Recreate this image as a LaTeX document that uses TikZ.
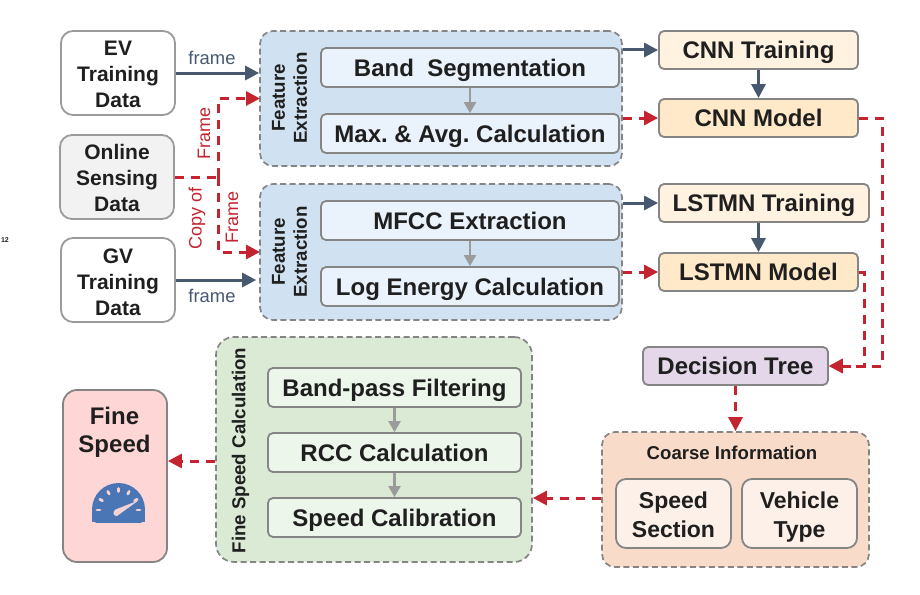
\documentclass[tikz,border=0pt]{standalone}
\usepackage{fontspec}
\setmainfont{Liberation Sans}
\usetikzlibrary{arrows.meta,calc}
\definecolor{bluearrow}{HTML}{47586F}
\definecolor{redarrow}{HTML}{C4242F}
\definecolor{edgegray}{HTML}{858585}
\definecolor{softgray}{HTML}{9B9B9B}
\definecolor{txt}{HTML}{1F1F1F}
\definecolor{fefill}{HTML}{D0E2F1}
\definecolor{innerblue}{HTML}{EAF2FB}
\definecolor{trainfill}{HTML}{FFF2E1}
\definecolor{modelfill}{HTML}{FFE9C8}
\definecolor{treefill}{HTML}{E3D7E9}
\definecolor{coarsefill}{HTML}{F8DCC9}
\definecolor{coarseinner}{HTML}{FDF0E9}
\definecolor{calcfill}{HTML}{DAEAD5}
\definecolor{calcinner}{HTML}{EDF6EA}
\definecolor{finefill}{HTML}{FFD6D6}
\definecolor{gaugeblue}{HTML}{4A76B5}
\definecolor{gaugetick}{HTML}{F6D3D3}
\newcommand{\toprule}[1]{\rule{0pt}{#1pt}}
\tikzset{
  every node/.style={text=txt,inner sep=0pt,align=center},
  boxbase/.style={rounded corners=5pt,line width=1.8pt,draw=edgegray},
  databox/.style={boxbase,rounded corners=12pt,draw=softgray,fill=white,minimum width=114pt,minimum height=84pt,font=\fontsize{21}{26}\selectfont\bfseries},
  group/.style={rounded corners=13pt,line width=1.7pt,draw=edgegray,dash pattern=on 6pt off 3.5pt},
  innerbox/.style={boxbase,minimum height=39pt,text height=23pt,text depth=6pt,font=\fontsize{24}{28}\selectfont\bfseries},
  stepnode/.style={boxbase,minimum height=38pt,text height=23pt,text depth=6pt,font=\fontsize{24}{28}\selectfont\bfseries},
  grouptitle/.style={rotate=90,font=\fontsize{18.7}{22}\selectfont\bfseries},
  bluelink/.style={draw=bluearrow,line width=3pt,-{Triangle[length=14pt,width=14pt]}},
  redlink/.style={draw=redarrow,line width=3pt,dash pattern=on 9pt off 7pt,-{Triangle[length=14pt,width=14pt,fill=redarrow]}},
  redplain/.style={draw=redarrow,line width=3pt,dash pattern=on 9pt off 7pt},
  graylink/.style={draw=softgray,line width=2.4pt,-{Triangle[length=11pt,width=12pt]}},
  framelabel/.style={font=\fontsize{18.4}{22}\selectfont,text=bluearrow},
  redlabel/.style={rotate=90,font=\fontsize{18}{22}\selectfont,text=redarrow},
}
\begin{document}
\begin{tikzpicture}[x=1pt,y=-1pt]
\useasboundingbox (0,0) rectangle (920,594);

% left data boxes
\node[databox] (ev) at (118,73) {\toprule{17}EV\\Training\\Data};
\node[databox,fill=black!5] (online) at (117,177) {\toprule{17}Online\\Sensing\\Data};
\node[databox] (gv) at (118,280) {\toprule{19}GV\\Training\\Data};
\node[font=\fontsize{7}{8}\selectfont\bfseries] (pagemark) at (5,240) {12};

% feature extraction groups
\node[group,fill=fefill,minimum width=362pt,minimum height=135pt] (fea) at (441,98.5) {};
\node[group,fill=fefill,minimum width=362pt,minimum height=136pt] (feb) at (441,252) {};
\node[grouptitle] (featitle) at (289.5,98) {Feature\\Extraction};
\node[grouptitle] (febtitle) at (289.5,252) {Feature\\Extraction};
\node[innerbox,fill=innerblue,minimum width=298pt] (band) at (470,67.5) {Band\ \ Segmentation};
\node[innerbox,fill=innerblue,minimum width=298pt] (maxavg) at (470,133.5) {Max.\ \&\ Avg.\ Calculation};
\node[innerbox,fill=innerblue,minimum width=298pt] (mfcc) at (470,220.5) {MFCC Extraction};
\node[innerbox,fill=innerblue,minimum width=298pt] (logen) at (470,286.5) {Log Energy Calculation};

% training and models
\node[stepnode,fill=trainfill,minimum width=199pt] (cnnt) at (758.5,50) {CNN Training};
\node[stepnode,fill=modelfill,minimum width=199pt] (cnnm) at (758.5,118) {CNN Model};
\node[stepnode,fill=trainfill,minimum width=210pt] (lstmt) at (764,203) {LSTMN Training};
\node[stepnode,fill=modelfill,minimum width=199pt] (lstmm) at (758.5,272) {LSTMN Model};
\node[stepnode,fill=treefill,minimum width=185pt] (tree) at (735.5,366) {Decision Tree};

% coarse information
\node[group,fill=coarsefill,minimum width=267pt,minimum height=135pt] (coarse) at (735.5,499.5) {};
\node[font=\fontsize{18.6}{22}\selectfont\bfseries] (coarsetitle) at (732,453) {Coarse Information};
\node[boxbase,rounded corners=10pt,fill=coarseinner,minimum width=115pt,minimum height=69pt,font=\fontsize{23}{29}\selectfont\bfseries] (section) at (673.5,513.5) {\toprule{19}Speed\\Section};
\node[boxbase,rounded corners=10pt,fill=coarseinner,minimum width=115pt,minimum height=69pt,font=\fontsize{23}{29}\selectfont\bfseries] (vtype) at (799.5,513.5) {\toprule{23}Vehicle\\Type};

% fine speed calculation
\node[group,rounded corners=18pt,fill=calcfill,minimum width=316pt,minimum height=225pt] (calc) at (374,449.5) {};
\node[grouptitle] (calctitle) at (240.5,450.5) {Fine Speed Calculation};
\node[innerbox,fill=calcinner,minimum width=253pt] (bandpass) at (394.5,387.5) {Band-pass Filtering};
\node[innerbox,fill=calcinner,minimum width=253pt] (rcc) at (394.5,452.5) {RCC Calculation};
\node[innerbox,fill=calcinner,minimum width=253pt] (calib) at (394.5,517.5) {Speed Calibration};

% fine speed output
\node[boxbase,rounded corners=14pt,fill=finefill,minimum width=104pt,minimum height=172pt] (fine) at (115,476) {};
\node[font=\fontsize{24}{28.5}\selectfont\bfseries] (finetitle) at (114.5,432.5) {Fine\\Speed};

% gauge
\begin{scope}
  \clip (92,480) rectangle (145,522);
  \fill[gaugeblue] (118.5,509.5) circle[radius=26.5];
  \fill[gaugeblue] (92,509.5) rectangle (145,522);
\end{scope}
\foreach \a in {0,30,60,90,120,150,180}
  \draw[gaugetick,line width=2.8pt,line cap=round]
    ($(118.5,510)+({18.5*cos(\a)},{-18.5*sin(\a)})$) -- ($(118.5,510)+({21.5*cos(\a)},{-21.5*sin(\a)})$);
\fill[gaugetick] (115.5,509.5) -- (138.5,500.5) -- (119,514.5) arc[start angle=-30,end angle=-210,radius=3pt] -- cycle;

% blue connectors
\draw[bluelink] (ev.east) -- (ev.east -| fea.west);
\coordinate (gvend) at ($(gv.east -| feb.west)+(-3,0)$);
\draw[bluelink] (gv.east) -- (gvend);
\draw[bluelink] (fea.east |- cnnt.west) -- (cnnt.west);
\draw[bluelink] (cnnt.south) -- (cnnm.north);
\draw[bluelink] (feb.east |- lstmt.west) -- (lstmt.west);
\coordinate (lstmtop) at (lstmm.north);
\draw[bluelink] (lstmt.south -| lstmtop) -- (lstmtop);
\node[framelabel] (framea) at (212,58) {frame};
\node[framelabel] (frameb) at (212,296) {frame};

% gray connectors
\draw[graylink] (band.south) -- (maxavg.north);
\draw[graylink] (mfcc.south) -- (logen.north);
\draw[graylink] (bandpass.south) -- (rcc.north);
\draw[graylink] (rcc.south) -- (calib.north);

% red connectors
\coordinate (split) at (218,177);
\coordinate (feaend) at (260,98.5);
\coordinate (febend) at (260,252);
\draw[redplain] (online.east) -- (split);
\draw[redlink] (split) |- (feaend);
\draw[redlink] (split) |- (febend);
\node[redlabel] (lframe) at (204,133) {Frame};
\node[redlabel] (lcopy) at (197,218) {Copy of};
\node[redlabel] (lframeb) at (232,217) {Frame};

\draw[redlink] (fea.east |- cnnm.west) -- (cnnm.west);
\draw[redlink] (feb.east |- lstmm.west) -- (lstmm.west);
\coordinate (rightbus) at (882,118);
\coordinate (innerbus) at (864,272);
\draw[redlink] (cnnm.east) -- (rightbus) |- (tree.east);
\draw[redlink] (lstmm.east) -- (innerbus) |- (tree.east);
\draw[redlink] (tree.south) -- (coarse.north -| tree.south);
\draw[redlink] (coarse.west |- 0,498) -- (calc.east |- 0,498);
\draw[redlink] (calc.west |- 0,461) -- (fine.east |- 0,461);
\end{tikzpicture}
\end{document}
